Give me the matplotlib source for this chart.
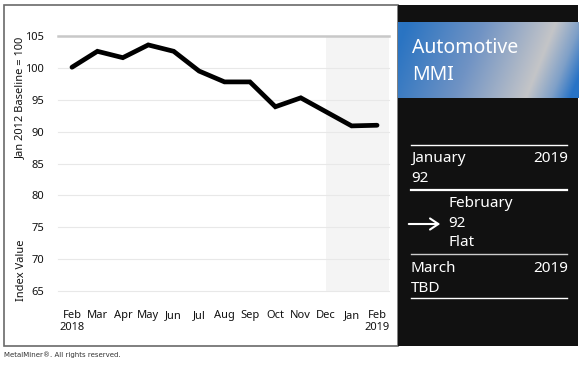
"""
Automotive MMI index chart with the black info panel on the right.
"""

import numpy as np
import matplotlib
matplotlib.use('Agg')
import matplotlib.pyplot as plt
from matplotlib.patches import Rectangle, FancyArrowPatch
from matplotlib.colors import LinearSegmentedColormap

# data
months = ['Feb', 'Mar', 'Apr', 'May', 'Jun', 'Jul', 'Aug', 'Sep',
          'Oct', 'Nov', 'Dec', 'Jan', 'Feb']
years = {0: '2018', 12: '2019'}
index_values = [100.1, 102.6, 101.6, 103.6, 102.6, 99.5, 97.8, 97.8,
                93.9, 95.3, 93.1, 90.9, 91.0]
y_ticks = [65, 70, 75, 80, 85, 90, 95, 100, 105]
forecast_start = 10  # shaded from Dec onwards

W, H = 580, 365
plt.rcParams['font.family'] = ['Noto Sans', 'DejaVu Sans']


def fx(px):
    return px / W


def fy(py):
    return 1 - py / H


fig = plt.figure(figsize=(W / 100, H / 100), dpi=100)
fig.patch.set_facecolor('white')

# left panel frame and black side panel (behind the axes)
fig.patches.append(Rectangle((fx(4), fy(346)), fx(398 - 4), 341 / H,
                             transform=fig.transFigure, fill=False,
                             edgecolor='#6a6a6a', lw=1.2, zorder=-2))
fig.patches.append(Rectangle((fx(398), fy(346)), fx(180), 341 / H,
                             transform=fig.transFigure, facecolor='#111111',
                             edgecolor='none', zorder=-1))

# main chart
ax = fig.add_axes([fx(58), fy(291), fx(389 - 58), (291 - 36) / H])
x = np.arange(len(months))
ax.set_xlim(-0.55, 12.47)
ax.set_ylim(65, 105)
ax.axvspan(forecast_start, 12.47, color='#f4f4f4', zorder=0, lw=0)
for v in y_ticks[:-1]:
    ax.axhline(v, color='#e8e8e8', lw=0.8, zorder=1, clip_on=False)
ax.axhline(105, color='#c8c8c8', lw=1.8, zorder=1, clip_on=False)
ax.plot(x, index_values, color='black', lw=3.4, solid_joinstyle='miter',
        solid_capstyle='round', zorder=3)

labels = [m + ('\n' + years[i] if i in years else '') for i, m in enumerate(months)]
ax.set_xticks(x)
ax.set_xticklabels(labels, fontsize=8, color='#111111', linespacing=1.1)
ax.set_yticks(y_ticks)
ax.set_yticklabels([str(v) for v in y_ticks], fontsize=8, color='#111111')
ax.tick_params(length=0)
ax.tick_params(axis='x', pad=14)
ax.tick_params(axis='y', pad=10)
for s in ax.spines.values():
    s.set_visible(False)
ax.set_facecolor('none')

fig.text(fx(21), fy(98), 'Jan 2012 Baseline = 100', rotation=90,
         fontsize=8, ha='center', va='center', color='#111111')
fig.text(fx(21), fy(270), 'Index Value', rotation=90,
         fontsize=8, ha='center', va='center', color='#111111')

fig.text(fx(4), fy(355), 'MetalMiner\u00ae. All rights reserved.',
         fontsize=5, family='DejaVu Sans', ha='left', va='center', color='#333333')

# gradient title box
gax = fig.add_axes([fx(398), fy(98), fx(180), 76 / H])
px_x = np.linspace(398, 578, 360)
px_y = np.linspace(22, 98, 152)
XX, YY = np.meshgrid(px_x, px_y)
u = XX + (YY - 60) * 30 / 76
cmap = LinearSegmentedColormap.from_list('mmi', [
    (0.0, '#2a74c2'), (0.40, '#7093c4'), (0.77, '#c4c5c8'),
    (0.90, '#7fa0c8'), (1.0, '#2873c6')])
gax.imshow((u - 392) / (585 - 392), cmap=cmap, vmin=0, vmax=1,
           aspect='auto', extent=(0, 1, 0, 1))
gax.set_axis_off()

fig.text(fx(412), fy(48), 'Automotive', fontsize=14, color='white',
         ha='left', va='center')
fig.text(fx(412), fy(75), 'MMI', fontsize=14, color='white',
         ha='left', va='center')

# side panel rows
def hline(py, lw, color='white'):
    fig.lines.append(plt.Line2D([fx(411), fx(567)], [fy(py), fy(py)],
                                transform=fig.transFigure, color=color, lw=lw))


hline(145, 1.0)
hline(190, 1.6)
hline(254, 1.0, '#cccccc')
hline(298, 1.0)

txt = dict(fontsize=11, color='white', va='center')
fig.text(fx(411), fy(158), 'January', ha='left', **txt)
fig.text(fx(568), fy(158), '2019', ha='right', **txt)
fig.text(fx(411), fy(178), '92', ha='left', **txt)
fig.text(fx(448), fy(203), 'February', ha='left', **txt)
fig.text(fx(448), fy(223), '92', ha='left', **txt)
fig.text(fx(448), fy(242), 'Flat', ha='left', **txt)
fig.text(fx(411), fy(268), 'March', ha='left', **txt)
fig.text(fx(568), fy(268), '2019', ha='right', **txt)
fig.text(fx(411), fy(288), 'TBD', ha='left', **txt)

fig.patches.append(FancyArrowPatch((fx(406), fy(224)), (fx(443), fy(224)),
                                   transform=fig.transFigure,
                                   arrowstyle='->,head_length=6,head_width=4',
                                   color='white', lw=1.5))

fig.savefig('out.png', dpi=100)
